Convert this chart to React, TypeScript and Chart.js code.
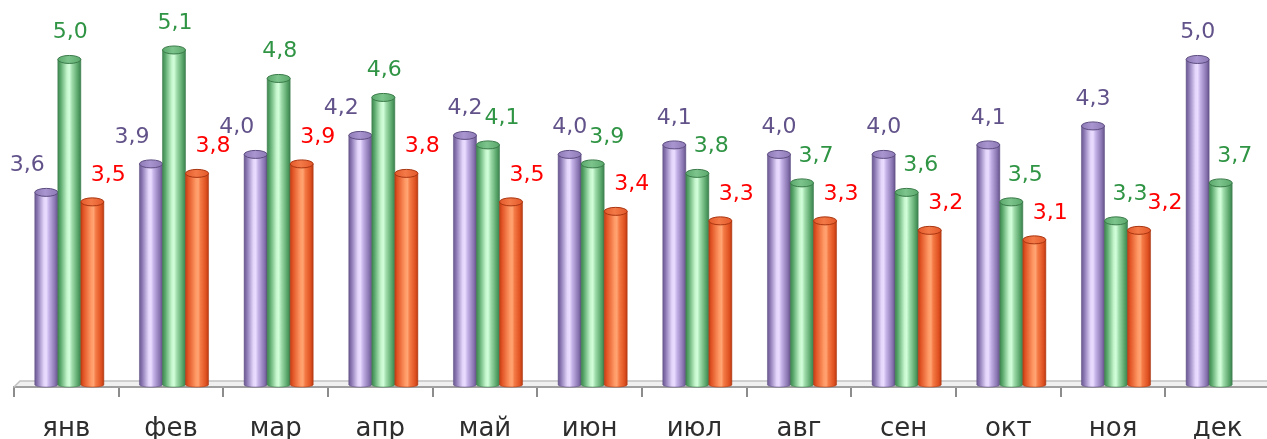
import React, { useEffect, useRef } from "react";
import { Chart, registerables } from "chart.js";

Chart.register(...registerables);

const CATEGORY_LABELS = ["янв", "фев", "мар", "апр", "май", "июн", "июл", "авг", "сен", "окт", "ноя", "дек"];
const SERIES_NAMES = ["Ряд 1", "Ряд 2", "Ряд 3"];
const PURPLE_VALUES = [3.6, 3.9, 4.0, 4.2, 4.2, 4.0, 4.1, 4.0, 4.0, 4.1, 4.3, 5.0];
const GREEN_VALUES = [5.0, 5.1, 4.8, 4.6, 4.1, 3.9, 3.8, 3.7, 3.6, 3.5, 3.3, 3.7];
const ORANGE_VALUES: (number | null)[] = [3.5, 3.8, 3.9, 3.8, 3.5, 3.4, 3.3, 3.3, 3.2, 3.1, 3.2, null];

const Y_MIN = 1.55;
const Y_MAX = 5.5;

type Palette = { stops: [number, string][]; cap: [string, string]; rim: string; label: string };

const PALETTES: Palette[] = [
  {
    stops: [[0, "#6a5890"], [0.12, "#8b78b3"], [0.4, "#e4d6fb"], [0.5, "#e9dcff"], [0.62, "#c3b1e6"], [0.88, "#8874b0"], [1, "#65538a"]],
    cap: ["#8d7ab6", "#a996d0"],
    rim: "#5d4c80",
    label: "#62528a",
  },
  {
    stops: [[0, "#3f8550"], [0.12, "#5aa86c"], [0.4, "#c4f5cc"], [0.5, "#d2ffda"], [0.62, "#9fdcab"], [0.88, "#55a266"], [1, "#3c8050"]],
    cap: ["#5aa86b", "#7cc48c"],
    rim: "#3a7a49",
    label: "#2f9444",
  },
  {
    stops: [[0, "#c23e15"], [0.12, "#e25526"], [0.45, "#ff9a66"], [0.55, "#ffa473"], [0.65, "#f47a45"], [0.88, "#e05222"], [1, "#b93a12"]],
    cap: ["#e4582a", "#f37a48"],
    rim: "#a93510",
    label: "#ff0000",
  },
];

const DEPTH_SHIFT = 3;
const LABEL_RISE = 21;

const fmt = (v: number) => v.toFixed(1).replace(".", ",");

const labelDx = (di: number, i: number, v: number) => {
  if (di === 0) {
    const g = GREEN_VALUES[i];
    return g != null && g > v + 0.2 ? -19 : 0;
  }
  if (di === 1) {
    const p = PURPLE_VALUES[i];
    return p != null && p >= v ? 14 : 1;
  }
  const g = GREEN_VALUES[i];
  return g != null && g <= v + 0.15 ? 26 : 16;
};

const cylinderPlugin = {
  id: "cylinders",
  beforeDatasetsDraw(chart: any) {
    const { ctx, chartArea } = chart;
    const { left, right, bottom } = chartArea;
    ctx.save();
    ctx.fillStyle = "#f0f0f0";
    ctx.beginPath();
    ctx.moveTo(left, bottom - 1);
    ctx.lineTo(left + 6, bottom - 6);
    ctx.lineTo(right + 10, bottom - 6);
    ctx.lineTo(right + 10, bottom - 1);
    ctx.closePath();
    ctx.fill();
    ctx.strokeStyle = "#c2c2c2";
    ctx.lineWidth = 1.5;
    ctx.beginPath();
    ctx.moveTo(left, bottom);
    ctx.lineTo(left + 6, bottom - 6);
    ctx.lineTo(right + 10, bottom - 6);
    ctx.stroke();
    ctx.restore();
  },
  afterDatasetsDraw(chart: any) {
    const { ctx, chartArea } = chart;
    ctx.save();
    chart.data.datasets.forEach((ds: any, di: number) => {
      const meta = chart.getDatasetMeta(di);
      const pal = PALETTES[di];
      meta.data.forEach((el: any, i: number) => {
        const v = ds.data[i];
        if (v == null) return;
        const props = el.getProps(["x", "y", "base", "width"], true);
        const { x, y, width } = props;
        const base = Math.min(props.base, chartArea.bottom);
        const cx = x + DEPTH_SHIFT;
        const l = cx - width / 2;
        const r = cx + width / 2;
        const rx = width / 2;
        const ry = 4;
        const g = ctx.createLinearGradient(l, 0, r, 0);
        pal.stops.forEach(([o, c]) => g.addColorStop(o, c));
        ctx.beginPath();
        ctx.moveTo(l, y);
        ctx.lineTo(l, base - 2);
        ctx.ellipse(cx, base - 2, rx, 2, 0, Math.PI, 0, true);
        ctx.lineTo(r, y);
        ctx.closePath();
        ctx.fillStyle = g;
        ctx.fill();
        ctx.strokeStyle = pal.rim;
        ctx.globalAlpha = 0.5;
        ctx.lineWidth = 1;
        ctx.stroke();
        ctx.globalAlpha = 1;
        const cg = ctx.createLinearGradient(l, 0, r, 0);
        cg.addColorStop(0, pal.cap[0]);
        cg.addColorStop(0.45, pal.cap[1]);
        cg.addColorStop(1, pal.cap[0]);
        ctx.beginPath();
        ctx.ellipse(cx, y, rx, ry, 0, 0, Math.PI * 2);
        ctx.fillStyle = cg;
        ctx.fill();
        ctx.strokeStyle = pal.rim;
        ctx.lineWidth = 1;
        ctx.stroke();
      });
    });
    ctx.font = '22px "DejaVu Sans"';
    ctx.textAlign = "center";
    ctx.textBaseline = "alphabetic";
    chart.data.datasets.forEach((ds: any, di: number) => {
      const meta = chart.getDatasetMeta(di);
      meta.data.forEach((el: any, i: number) => {
        const v = ds.data[i];
        if (v == null) return;
        const { x, y } = el.getProps(["x", "y"], true);
        ctx.fillStyle = PALETTES[di].label;
        ctx.fillText(fmt(v), x + DEPTH_SHIFT + labelDx(di, i, v), y - LABEL_RISE);
      });
    });
    ctx.restore();
  },
};

export default function App() {
  const ref = useRef<HTMLCanvasElement | null>(null);
  useEffect(() => {
    if (!ref.current) return;
    const seriesValues = [PURPLE_VALUES, GREEN_VALUES, ORANGE_VALUES];
    const chart = new Chart(ref.current, {
      type: "bar",
      data: {
        labels: CATEGORY_LABELS,
        datasets: seriesValues.map((vals, di) => ({
          label: SERIES_NAMES[di],
          data: vals,
          base: Y_MIN,
          backgroundColor: "rgba(0,0,0,0)",
          borderWidth: 0,
          categoryPercentage: 0.66,
          barPercentage: 1,
        })),
      },
      options: {
        animation: false,
        responsive: true,
        maintainAspectRatio: false,
        layout: { padding: { left: 14, right: 2, top: 12, bottom: 0 } },
        plugins: { legend: { display: false }, tooltip: { enabled: false } },
        scales: {
          x: {
            grid: { drawOnChartArea: false, drawTicks: true, tickLength: 10, color: "#8c8c8c", lineWidth: 2, offset: true },
            border: { display: true, color: "#a0a0a0", width: 2 },
            ticks: { color: "#2e2e2e", font: { family: "DejaVu Sans", size: 26 }, padding: 17, maxRotation: 0, autoSkip: false },
            afterFit: (s: any) => {
              s.height = 52;
            },
          },
          y: { display: false, min: Y_MIN, max: Y_MAX },
        },
      },
      plugins: [cylinderPlugin],
    } as any);
    return () => chart.destroy();
  }, []);
  return (
    <div style={{ position: "absolute", left: 0, top: 0, width: 1267, height: 439, overflow: "hidden", background: "#fff" }}>
      <div style={{ position: "relative", width: 1272, height: 439 }}>
        <canvas ref={ref} />
      </div>
    </div>
  );
}
